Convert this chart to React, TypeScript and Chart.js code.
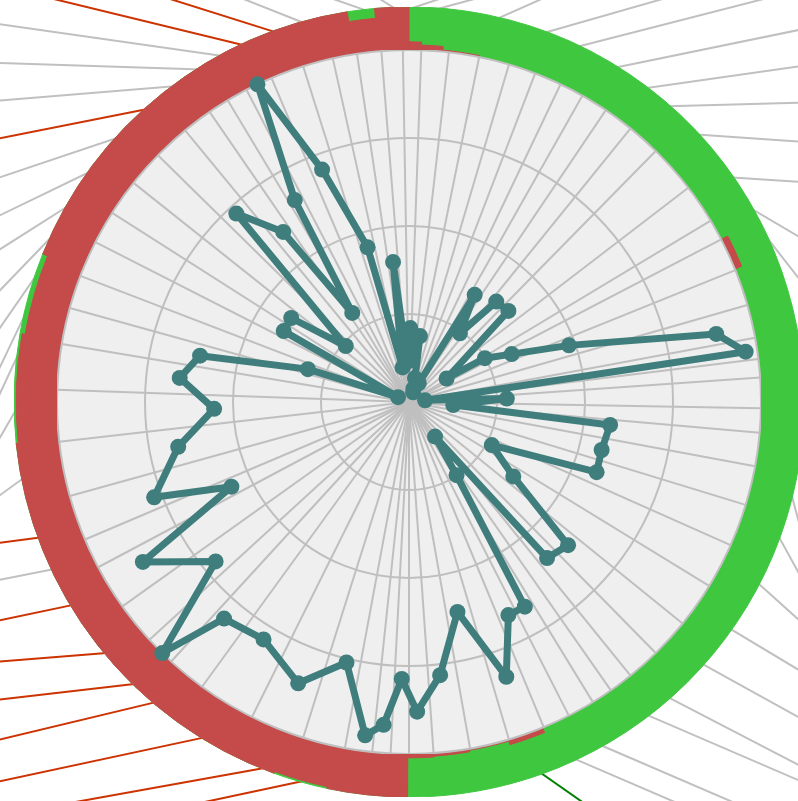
import React, { useEffect, useRef } from 'react';
import { Chart, registerables } from 'chart.js';

Chart.register(...registerables);

// ---- Radar series: angle (deg, clockwise from top) and value (0-100) ----
const pointAngles = [
  0.8, 3.5, 9.3, 14, 18.5, 23, 27.5, 31.7, 36.6, 41.2, 47.4, 57.8, 60.1, 64.9, 70.7, 77.3, 81.7, 84,
  87.8, 93.9, 96.5, 104, 110.4, 117.5, 125.6, 131.9, 138.6, 143.2, 146.8, 150.5, 155, 160.4, 166.8,
  173.5, 178.6, 181.7, 184.5, 187.6, 193.4, 201.5, 211.5, 220.5, 224.3, 230.4, 238.8, 244.7, 249.6,
  259, 268.2, 276.2, 282.4, 288.1, 294, 299.6, 305.4, 311.6, 317.6, 323.6, 327.4, 330.6, 334.7,
  339.7, 345.2, 349.5, 353.5, 357.5,
];
const pointValues = [
  21, 12, 19, 7, 4, 3, 6, 35.7, 24.3, 37.8, 38.3, 12.6, 24.9, 32.2, 48.2, 89.4, 96.7, 4.6,
  27.8, 12.6, 57.5, 56.4, 56.9, 26.5, 36.4, 60.8, 59.2, 12.3, 24.8, 66.8, 66.8, 82.8, 61.2,
  78.1, 88, 78.7, 92, 95.5, 76.1, 85.9, 79.1, 80.9, 100, 71.2, 88.2, 55.9, 77.3,
  66.8, 55.4, 65.5, 60.8, 30.2, 3.4, 40.9, 41.1, 24, 72.6, 60.1, 30, 65.9, 100,
  70.5, 45.5, 10, 40, 11.4,
];
const radialTicks = [0, 25, 50, 75, 100];

// ---- Outer ring: runs (start angle, deg) and red share of the ring thickness ----
const ringRunStart = [0, 2, 5.5, 11.5, 62.5, 67.8, 157.7, 163.6, 170.2, 176, 180.2, 192, 200, 264, 280, 292, 351, 355];
const ringRedShare = [0.19, 0.12, 0.035, 0, 0.17, 0, 0.12, 0.035, 0.07, 0.09, 1, 0.96, 1, 0.95, 0.88, 1, 0.77, 1];

// ---- Outer thin lines: exit angle on the ring, screen direction (deg), kind ----
const outerLineExit = [
  0.9, 4.5, 13.3, 20.5, 25.7, 32, 37.3, 41.5, 47.4, 55.4, 61, 66, 104, 110.2, 117.5, 125.2, 131.7,
  138.6, 142.6, 150.6, 154.9, 160.3, 196, 201.9, 211.7, 220.4, 224.4, 230.5, 239, 244.9, 249.9,
  258.7, 268.4, 276.4, 282.1, 288.1, 294.3, 299.4, 305.4, 311.8, 317.7, 323, 327.4, 331.3, 334.8,
  339.8, 344.2, 353.4, 357.7,
];
const outerLineDir = [
  341.6, 345, 336, 344, 345.6, 348.4, 351.9, 358.5, 4, 3.7, 30.5, 52, 75, 61.2, 42, 31, 29,
  27.4, 23.3, 23.3, 23.3, 35, 168, 169.8, 167.9, 166.5, 173.4, 175.5, 168.2, 168.7, 172.5,
  144, 120, 115, 115.5, 124.7, 134, 147.6, 154.2, 161.4, 168.8, 175.3, 181.8, 188.1, 193.7,
  197.5, 201.6, 199.3, 212,
];
const outerLineKind = [
  0, 0, 0, 0, 0, 0, 0, 0, 0, 0, 0, 0, 0, 0, 0, 0, 0, 0, 0, 0, 0, 2, 1, 1, 1, 1, 1, 1, 1, 0, 1,
  0, 0, 0, 0, 0, 0, 0, 0, 0, 1, 0, 0, 0, 1, 1, 0, 0, 0,
];

// ---- styles / layout ----
const TEAL = 'rgb(63,126,125)';
const RING_RED = 'rgb(196,75,74)';
const RING_GREEN = 'rgb(63,200,63)';
const PLOT_BG = '#efefef';
const GRID = '#bfbfbf';
const LINE_COLORS = ['rgb(192,192,192)', 'rgb(204,51,0)', 'rgb(0,128,0)'];

const W = 798;
const H = 801;
const CX = 409;
const CY = 402;
const R_PLOT = 352;
const R_RING = 395;
const VMAX = 100;
const RING_MAX = (VMAX * R_RING) / R_PLOT;

const STEPS = 2; // labels per degree
const LABEL_COUNT = 360 * STEPS;
const angleLabels = Array.from({ length: LABEL_COUNT }, (_, i) => `${i / STEPS}°`);
const toIdx = (a: number) => Math.round(a * STEPS) % LABEL_COUNT;

export default function App() {
  const linesRef = useRef<HTMLCanvasElement>(null);
  const ringRef = useRef<HTMLCanvasElement>(null);
  const radarRef = useRef<HTMLCanvasElement>(null);

  useEffect(() => {
    // radar data on a fine angular grid
    const radarData: (number | null)[] = new Array(LABEL_COUNT).fill(null);
    pointAngles.forEach((a, i) => {
      radarData[toIdx(a)] = pointValues[i];
    });
    const spokes = new Set<number>();
    pointAngles.forEach((a, i) => {
      const next = i + 1 < pointAngles.length ? pointAngles[i + 1] : pointAngles[0] + 360;
      spokes.add(toIdx((a + next) / 2));
    });

    // ring
    const ringAngles = ringRunStart.map((s, i) =>
      (i + 1 < ringRunStart.length ? ringRunStart[i + 1] : 360) - s
    );
    const ringRed = ringRedShare.map((s) => (s > 0 ? VMAX + s * (RING_MAX - VMAX) : VMAX - 3));
    const ringGreen = ringRedShare.map(() => RING_MAX);

    // outer lines in value units, centre at origin
    const u = VMAX / R_PLOT;
    const lineSets = outerLineExit.map((psi, i) => {
      const p = (psi * Math.PI) / 180;
      const d = (outerLineDir[i] * Math.PI) / 180;
      const ex = RING_MAX * Math.sin(p);
      const ey = RING_MAX * Math.cos(p);
      const dx = Math.cos(d);
      const dy = -Math.sin(d);
      return {
        data: [
          { x: ex - 6 * dx, y: ey - 6 * dy },
          { x: ex + 400 * dx, y: ey + 400 * dy },
        ],
        showLine: true,
        borderColor: LINE_COLORS[outerLineKind[i]],
        borderWidth: 2,
        pointRadius: 0,
      };
    });

    const common = {
      responsive: false,
      animation: false as const,
      events: [] as any[],
      layout: { padding: 0 },
      plugins: { legend: { display: false }, tooltip: { enabled: false } },
    };

    const lines = new Chart(linesRef.current!, {
      type: 'scatter',
      data: { datasets: lineSets as any },
      options: {
        ...common,
        scales: {
          x: { type: 'linear', display: false, min: -CX * u, max: (W - CX) * u },
          y: { type: 'linear', display: false, min: -(H - CY) * u, max: CY * u },
        },
      } as any,
    });

    const ring = new Chart(ringRef.current!, {
      type: 'polarArea',
      data: {
        labels: ringRunStart.map((s) => `${s}°`),
        datasets: [
          {
            data: ringRed,
            backgroundColor: RING_RED,
            borderColor: RING_RED,
            borderWidth: 1,
            angle: (ctx: any) => ringAngles[ctx.dataIndex],
          } as any,
          {
            data: ringGreen,
            backgroundColor: RING_GREEN,
            borderColor: RING_GREEN,
            borderWidth: 1,
            angle: (ctx: any) => ringAngles[ctx.dataIndex],
          } as any,
        ],
      },
      options: {
        ...common,
        scales: {
          r: {
            min: 0,
            max: RING_MAX,
            startAngle: 0,
            ticks: { display: false },
            grid: { display: false },
            angleLines: { display: false },
            pointLabels: { display: false },
          },
        },
      } as any,
    });

    const radar = new Chart(radarRef.current!, {
      type: 'radar',
      data: {
        labels: angleLabels,
        datasets: [
          {
            data: radarData,
            borderColor: TEAL,
            backgroundColor: TEAL,
            borderWidth: 7,
            borderJoinStyle: 'round',
            borderCapStyle: 'round',
            pointRadius: 8,
            pointHoverRadius: 8,
            pointBackgroundColor: TEAL,
            pointBorderWidth: 0,
            fill: false,
            spanGaps: true,
            tension: 0,
          } as any,
        ],
      },
      options: {
        ...common,
        scales: {
          r: {
            min: radialTicks[0],
            max: radialTicks[radialTicks.length - 1],
            startAngle: 0,
            backgroundColor: PLOT_BG,
            ticks: { display: false, stepSize: radialTicks[1] - radialTicks[0] },
            grid: { circular: true, color: GRID, lineWidth: 2 },
            angleLines: {
              display: true,
              color: (c: any) => (spokes.has(c.index) ? GRID : 'rgba(0,0,0,0)'),
              lineWidth: (c: any) => (spokes.has(c.index) ? 2 : 0),
            },
            pointLabels: { display: false },
          },
        },
      } as any,
    });

    return () => {
      lines.destroy();
      ring.destroy();
      radar.destroy();
    };
  }, []);

  const abs = (left: number, top: number, size: number): React.CSSProperties => ({
    position: 'absolute',
    left,
    top,
    width: size,
    height: size,
  });

  return (
    <div
      style={{
        position: 'absolute',
        left: 0,
        top: 0,
        width: W,
        height: H,
        overflow: 'hidden',
        background: '#ffffff',
      }}
    >
      <canvas ref={linesRef} width={W} height={H} style={{ position: 'absolute', left: 0, top: 0, width: W, height: H }} />
      <canvas ref={ringRef} width={2 * R_RING} height={2 * R_RING} style={abs(CX - R_RING, CY - R_RING, 2 * R_RING)} />
      <canvas ref={radarRef} width={2 * R_PLOT} height={2 * R_PLOT} style={abs(CX - R_PLOT, CY - R_PLOT, 2 * R_PLOT)} />
    </div>
  );
}
